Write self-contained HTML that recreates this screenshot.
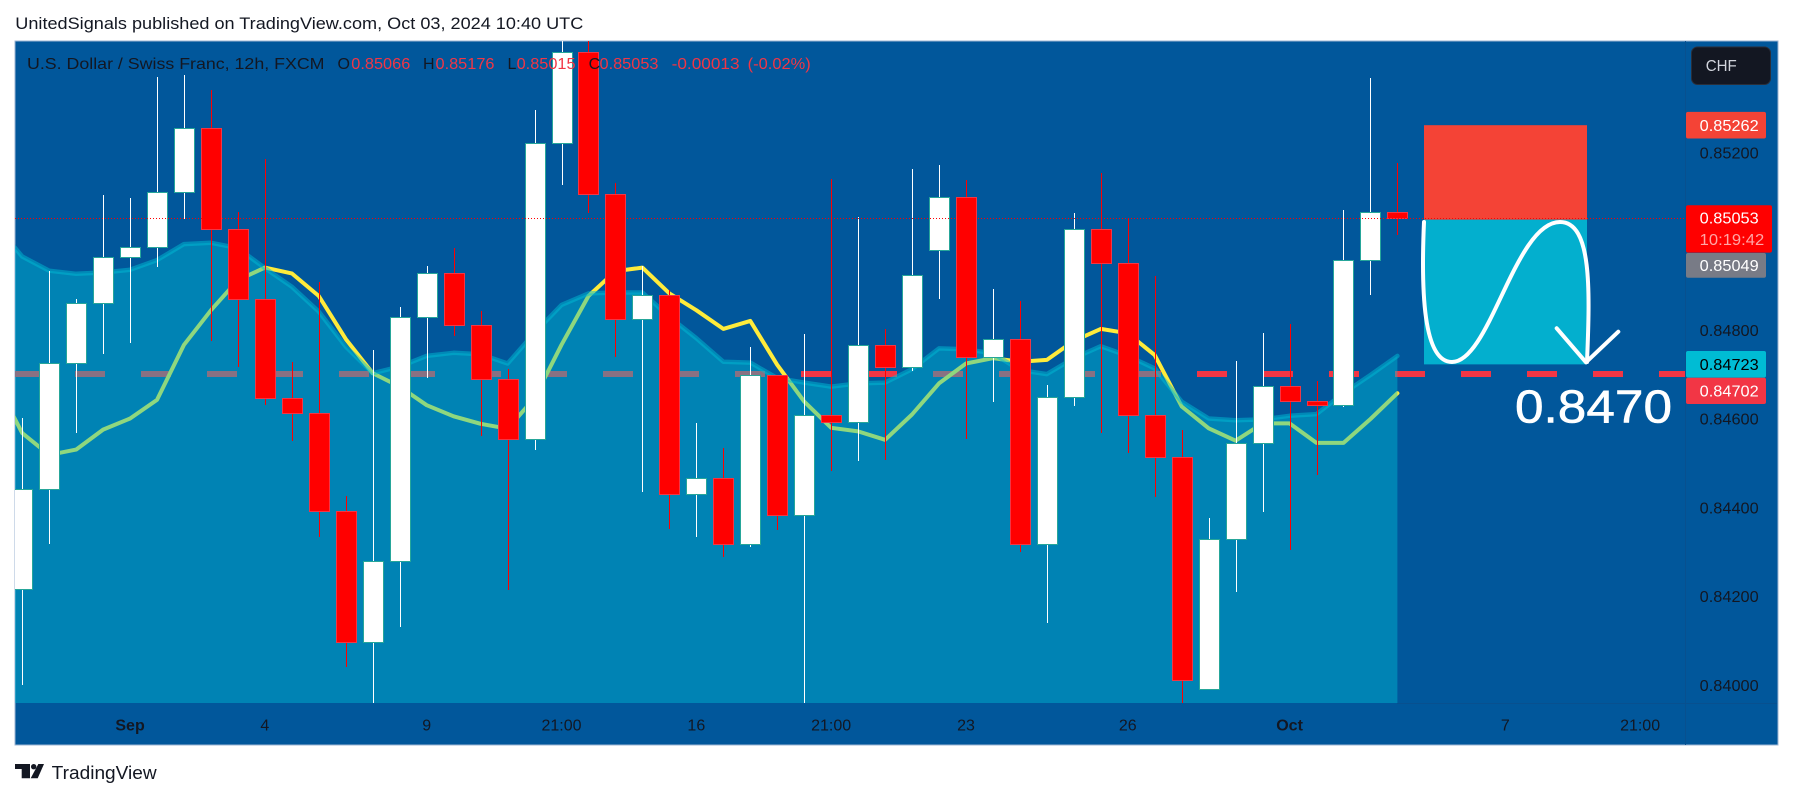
<!DOCTYPE html>
<html lang="en">
<head>
<meta charset="utf-8">
<title>USD/CHF 12h chart</title>
<style>
html,body{margin:0;padding:0;background:#fff;width:1793px;height:798px;overflow:hidden}
svg{display:block;font-family:"Liberation Sans",sans-serif}
</style>
</head>
<body>
<svg id="chart" xmlns="http://www.w3.org/2000/svg" width="1793" height="798" viewBox="0 0 1793 798">
  <defs>
    <clipPath id="plot-clip"><rect x="15" y="41" width="1670" height="662"/></clipPath>
  </defs>
  <rect x="0" y="0" width="1793" height="798" fill="#ffffff"/>
  <text x="15.3" y="29" font-size="17" fill="#131722" textLength="568" lengthAdjust="spacingAndGlyphs">UnitedSignals published on TradingView.com, Oct 03, 2024 10:40 UTC</text>
  <rect x="15" y="41" width="1763" height="704" fill="#01579b" stroke="#9db5d3" stroke-width="1"/>
  <g id="plot" clip-path="url(#plot-clip)"></g>
  <line x1="1685.5" y1="41" x2="1685.5" y2="745" stroke="#08508f" stroke-width="1"/>
  <line x1="1397" y1="703.5" x2="1777" y2="703.5" stroke="#08508f" stroke-width="1"/>
  <g id="time-axis"></g>
  <g id="price-axis"></g>
  <g font-size="16">
    <text x="27" y="69" fill="#131722" textLength="297.5" lengthAdjust="spacingAndGlyphs">U.S. Dollar / Swiss Franc, 12h, FXCM</text>
    <text x="337.5" y="69" fill="#131722">O</text>
    <text x="351.3" y="69" fill="#f23645" textLength="59" lengthAdjust="spacingAndGlyphs">0.85066</text>
    <text x="423" y="69" fill="#131722">H</text>
    <text x="435.5" y="69" fill="#f23645" textLength="59" lengthAdjust="spacingAndGlyphs">0.85176</text>
    <text x="507.5" y="69" fill="#131722">L</text>
    <text x="516.6" y="69" fill="#f23645" textLength="59" lengthAdjust="spacingAndGlyphs">0.85015</text>
    <text x="588.6" y="69" fill="#131722">C</text>
    <text x="599.5" y="69" fill="#f23645" textLength="59" lengthAdjust="spacingAndGlyphs">0.85053</text>
    <text x="671.6" y="69" fill="#f23645" textLength="68" lengthAdjust="spacingAndGlyphs">-0.00013</text>
    <text x="747.7" y="69" fill="#f23645" textLength="63" lengthAdjust="spacingAndGlyphs">(-0.02%)</text>
  </g>
  <g>
    <rect x="1691.5" y="47" width="79" height="37.5" rx="6" fill="#131722" stroke="#2a2e39"/>
    <text x="1705.7" y="71" font-size="16" fill="#d1d4dc" textLength="31" lengthAdjust="spacingAndGlyphs">CHF</text>
  </g>
  <g fill="#131722">
    <path d="M15 764H30V778.3H21.7V769H15Z"/>
    <circle cx="33.7" cy="766.7" r="2.7"/>
    <path d="M38.3 764H44L37.7 778.3H30.7Z"/>
    <text x="51.7" y="779" font-size="18.5" textLength="105" lengthAdjust="spacingAndGlyphs">TradingView</text>
  </g>
</svg>
<script>
var opens = [0.84216,0.84443,0.84725,0.84861,0.84964,0.84987,0.85111,0.85255,0.85027,0.84870,0.84647,0.84613,0.84393,0.84097,0.84279,0.84829,0.84930,0.84811,0.84689,0.84555,0.85221,0.85426,0.85108,0.84825,0.84879,0.84432,0.84466,0.84318,0.84698,0.84384,0.84608,0.84592,0.84766,0.84718,0.84980,0.85100,0.84740,0.84780,0.84318,0.84649,0.85027,0.84951,0.84608,0.84515,0.83991,0.84329,0.84545,0.84674,0.84641,0.84632,0.84958,0.85066];
var highs = [0.84602,0.84933,0.84870,0.85105,0.85098,0.85370,0.85375,0.85341,0.85066,0.85185,0.84729,0.84909,0.84427,0.84755,0.84852,0.84945,0.84985,0.84843,0.84712,0.85296,0.85460,0.85460,0.85132,0.84945,0.84890,0.84591,0.84535,0.84763,0.84700,0.84791,0.85141,0.85054,0.84802,0.85163,0.85172,0.85139,0.84893,0.84866,0.84676,0.85065,0.85154,0.85052,0.84922,0.84574,0.84377,0.84731,0.84794,0.84814,0.84686,0.85071,0.85368,0.85176];
var lows = [0.84001,0.84319,0.84569,0.84746,0.84772,0.84943,0.85051,0.84776,0.84716,0.84631,0.84551,0.84335,0.84042,0.83950,0.84131,0.84693,0.84788,0.84562,0.84215,0.84531,0.85127,0.85063,0.84740,0.84435,0.84353,0.84335,0.84290,0.84312,0.84350,0.83950,0.84483,0.84506,0.84508,0.84709,0.84870,0.84555,0.84638,0.84300,0.84140,0.84629,0.84568,0.84523,0.84424,0.83950,0.83991,0.84211,0.84391,0.84305,0.84474,0.84626,0.84879,0.85015];
var closes = [0.84443,0.84725,0.84861,0.84964,0.84987,0.85111,0.85255,0.85027,0.84870,0.84647,0.84613,0.84393,0.84097,0.84279,0.84829,0.84930,0.84811,0.84689,0.84555,0.85221,0.85426,0.85108,0.84825,0.84879,0.84432,0.84466,0.84318,0.84698,0.84384,0.84608,0.84592,0.84766,0.84718,0.84924,0.85100,0.84740,0.84780,0.84318,0.84649,0.85027,0.84951,0.84608,0.84515,0.84012,0.84329,0.84545,0.84674,0.84641,0.84632,0.84958,0.85066,0.85053];
// The two moving averages start one bar before the first visible candle.
var bandSeries = [0.85039,0.84966,0.84934,0.84927,0.84930,0.84936,0.84958,0.84994,0.84997,0.84985,0.84940,0.84898,0.84842,0.84763,0.84703,0.84718,0.84742,0.84749,0.84746,0.84725,0.84794,0.84857,0.84883,0.84885,0.84885,0.84830,0.84782,0.84729,0.84727,0.84692,0.84682,0.84673,0.84680,0.84682,0.84712,0.84759,0.84757,0.84748,0.84710,0.84701,0.84737,0.84764,0.84742,0.84714,0.84639,0.84601,0.84597,0.84599,0.84607,0.84611,0.84658,0.84699,0.84742];
var maSeries = [0.84686,0.84568,0.84519,0.84531,0.84576,0.84601,0.84643,0.84767,0.84845,0.84913,0.84941,0.84928,0.84877,0.84780,0.84703,0.84673,0.84631,0.84606,0.84589,0.84578,0.84647,0.84767,0.84877,0.84933,0.84941,0.84883,0.84845,0.84803,0.84821,0.84722,0.84639,0.84580,0.84572,0.84553,0.84610,0.84680,0.84725,0.84737,0.84729,0.84733,0.84776,0.84803,0.84793,0.84744,0.84628,0.84579,0.84551,0.84590,0.84590,0.84546,0.84546,0.84600,0.84658];
var priceTicks = [0.852,0.848,0.846,0.844,0.842,0.84];
var timeTickBars = [4,9,15,20,25,30,35,41,47,55,60];
var timeTickLabels = ["Sep","4","9","21:00","16","21:00","23","26","Oct","7","21:00"];
var supportLevel = 0.84702;
var lastPrice = 0.85053;
var stopLevel = 0.85262;
var entryLevel = 0.85049;
var targetLevel = 0.84723;
var countdown = "10:19:42";

var NS = "http://www.w3.org/2000/svg";
function xOf(i){ return 22.2 + 26.965 * i; }
function yOf(p){ return 152.7 + (0.852 - p) * 44375; }
function snap(v){ return Math.round(v) + 0.5; }
function mk(tag, attrs, parent){
  var el = document.createElementNS(NS, tag);
  for (var k in attrs) el.setAttribute(k, attrs[k]);
  parent.appendChild(el);
  return el;
}
function linePath(vals){
  var d = "";
  for (var j = 0; j < vals.length; j++){
    d += (j ? "L" : "M") + xOf(j - 1).toFixed(1) + " " + yOf(vals[j]).toFixed(1);
  }
  return d;
}
var plot = document.getElementById("plot");

var supportLine = mk("line", {x1:15, x2:1685, y1:snap(yOf(supportLevel)) - 0.5, y2:snap(yOf(supportLevel)) - 0.5, stroke:"#f23645", "stroke-width":6, "stroke-dasharray":"30 36", "stroke-dashoffset":6}, plot);



var maLine = mk("path", {d:linePath(maSeries), fill:"none", stroke:"#ffeb3b", "stroke-width":4, "stroke-linejoin":"round", "stroke-linecap":"round"}, plot);



var lastX = xOf(bandSeries.length - 2).toFixed(1);
var bandArea = mk("path", {d:linePath(bandSeries) + "L" + lastX + " 703L" + xOf(-1).toFixed(1) + " 703Z", fill:"#00bcd4", "fill-opacity":0.44}, plot);



var bandLine = mk("path", {d:linePath(bandSeries), fill:"none", stroke:"#00bcd4", "stroke-opacity":0.5, "stroke-width":4.5, "stroke-linejoin":"round", "stroke-linecap":"round"}, plot);



for (var i = 0; i < opens.length; i++){
  var isUp = closes[i] >= opens[i];
  var cx = snap(xOf(i));
  var candleGroup = mk("g", {}, plot);
  
  
  var wick = mk("line", {x1:cx, x2:cx, y1:Math.round(yOf(highs[i])), y2:Math.round(yOf(lows[i])), stroke:isUp ? "#ffffff" : "#ff0000", "stroke-width":1}, candleGroup);
  
  
  var bodyTop = Math.round(yOf(Math.max(opens[i], closes[i])));
  var bodyBottom = Math.round(yOf(Math.min(opens[i], closes[i])));
  var candleBody = mk("rect", {x:cx - 10, y:bodyTop + 0.5, width:20, height:Math.max(bodyBottom - bodyTop, 1), fill:isUp ? "#ffffff" : "#ff0000", stroke:isUp ? "#26a69a" : "#f23645", "stroke-width":1}, candleGroup);
  
  
}

var stopBox = mk("rect", {x:1424, y:yOf(stopLevel), width:163, height:yOf(entryLevel) - yOf(stopLevel), fill:"#f44336"}, plot);


var targetBox = mk("rect", {x:1424, y:yOf(entryLevel), width:163, height:yOf(targetLevel) - yOf(entryLevel), fill:"#03afce"}, plot);



var lastLine = mk("line", {x1:15, x2:1685, y1:snap(yOf(lastPrice)), y2:snap(yOf(lastPrice)), stroke:"#ff0000", "stroke-width":1, "stroke-dasharray":"1 2"}, plot);



var curve = mk("path", {d:"M1424 222C1421 290 1423 362 1452 362C1490 362 1515 222 1560 222C1592 222 1590 290 1587 362", fill:"none", stroke:"#ffffff", "stroke-width":4, "stroke-linecap":"round"}, plot);


var arrowHead = mk("path", {d:"M1556.7 328.3L1586 362.3L1618.3 331.7", fill:"none", stroke:"#ffffff", "stroke-width":4, "stroke-linecap":"round", "stroke-linejoin":"round"}, plot);



var targetText = mk("text", {x:1515, y:422.7, "font-size":46, fill:"#ffffff", stroke:"#ffffff", "stroke-width":0.6, textLength:157, lengthAdjust:"spacingAndGlyphs"}, plot);
targetText.textContent = "0.8470";



var timeAxis = document.getElementById("time-axis");
for (var t = 0; t < timeTickLabels.length; t++){
  var isMonth = /[A-Za-z]/.test(timeTickLabels[t]);
  var tickText = mk("text", {x:xOf(timeTickBars[t]), y:730.5, "font-size":16, "text-anchor":"middle", fill:"#131722", "font-weight":isMonth ? "700" : "400"}, timeAxis);
  tickText.textContent = timeTickLabels[t];
  
  
}

var priceAxis = document.getElementById("price-axis");
function priceText(str, centerY, color, name, len){
  var el = mk("text", {x:1699.7, y:centerY + 5.7, "font-size":16, fill:color, textLength:len || 59, lengthAdjust:"spacingAndGlyphs"}, priceAxis);
  el.textContent = str;
  
  
}
for (var p = 0; p < priceTicks.length; p++){
  priceText(priceTicks[p].toFixed(5), yOf(priceTicks[p]), "#131722", "price-tick-label");
}
function priceTag(price, color, textColor, y0, y1, name){
  var r = mk("rect", {x:1686, y:y0, width:80, height:y1 - y0, fill:color, rx:2}, priceAxis);
  
  
  priceText(price.toFixed(5), (y0 + y1) / 2, textColor, name + '-label');
}
priceTag(stopLevel, "#f44336", "#ffffff", yOf(stopLevel) - 13.3, yOf(stopLevel) + 13.3, "stop-price");
priceTag(entryLevel, "#787b86", "#ffffff", yOf(entryLevel) + 33.3, yOf(entryLevel) + 58, "entry-price");
priceTag(targetLevel, "#00bcd4", "#000000", yOf(targetLevel) - 13.4, yOf(targetLevel) + 13.3, "target-price");
priceTag(supportLevel, "#f23645", "#ffffff", yOf(supportLevel) + 4, yOf(supportLevel) + 30.3, "support-price");

var lastTag = mk("rect", {x:1686, y:yOf(lastPrice) - 12.7, width:86, height:47.4, fill:"#ff0000", rx:2}, priceAxis);


priceText(lastPrice.toFixed(5), yOf(lastPrice), "#ffffff", "last-price-label");
priceText(countdown, yOf(lastPrice) + 21.3, "#ffa6a6", "bar-countdown-label", 64.5);
</script>
</body>
</html>
